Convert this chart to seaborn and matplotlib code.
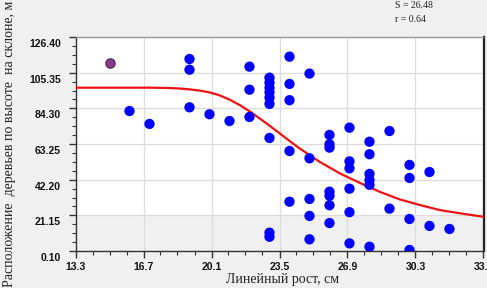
import matplotlib
matplotlib.use("Agg")
import matplotlib.pyplot as plt
import matplotlib.transforms as mtransforms
from matplotlib.ticker import AutoMinorLocator, FixedLocator
import seaborn as sns
import pandas as pd

# ---- data ----
growth = [16.0, 17.0, 19.0, 19.0, 19.0, 20.0, 21.0, 22.0, 22.0, 22.0,
          23.0, 23.0, 23.0, 23.0, 23.0, 23.0, 23.0, 23.0, 23.0,
          24.0, 24.0, 24.0, 24.0, 24.0,
          25.0, 25.0, 25.0, 25.0, 25.0,
          26.0, 26.0, 26.0, 26.0, 26.0, 26.0, 26.0,
          27.0, 27.0, 27.0, 27.0, 27.0, 27.0,
          28.0, 28.0, 28.0, 28.0, 28.0, 28.0,
          29.0, 29.0,
          30.0, 30.0, 30.0, 30.0,
          31.0, 31.0,
          32.0]
height = [82.7, 75.1, 113.4, 107.1, 84.9, 80.8, 76.8, 108.9, 95.3, 79.2,
          102.4, 99.5, 96.5, 93.8, 90.6, 86.9, 66.8, 10.9, 8.5,
          114.8, 98.7, 89.1, 59.1, 29.2,
          104.8, 54.8, 30.8, 20.8, 7.0,
          68.6, 63.1, 61.1, 35.1, 32.7, 27.1, 16.6,
          72.9, 53.0, 48.9, 36.9, 23.0, 4.6,
          64.6, 57.2, 45.6, 42.0, 39.2, 2.6,
          70.9, 25.1,
          50.9, 43.2, 19.0, 0.7,
          46.7, 14.9,
          13.1]
highlight_x = [15.0]
highlight_y = [111.1]

curve_x = [13.3, 17.0, 18.0, 18.5, 19.0, 19.5, 20.0, 20.5, 21.0, 21.5,
           22.0, 22.5, 23.0, 23.5, 24.0, 24.5, 25.5, 26.5, 27.5, 28.5,
           29.5, 30.5, 31.5, 32.5, 33.7]
curve_y = [96.5, 96.5, 96.3, 96.0, 95.5, 94.8, 93.7, 92.0, 89.5, 86.3,
           82.6, 78.4, 74.1, 69.6, 65.1, 60.7, 52.8, 46.0, 40.4, 35.1,
           30.6, 27.3, 24.3, 22.4, 20.3]

x_ticks = [13.3, 16.7, 20.1, 23.5, 26.9, 30.3, 33.7]
x_tick_labels = ["13.3", "16.7", "20.1", "23.5", "26.9", "30.3", "33.7"]
y_ticks = [0.10, 21.15, 42.20, 63.25, 84.30, 105.35, 126.40]
y_tick_labels = ["0.10", "21.15", "42.20", "63.25", "84.30", "105.35", "126.40"]

x_label = "Линейный рост, см"
y_label = "Расположение  деревьев по высоте  на склоне, м"
stat_s = "S = 26.48"
stat_r = "r = 0.64"

# ---- drawing ----
sns.set_style("white")
plt.rcParams["font.family"] = ["Liberation Sans", "DejaVu Sans"]

W, H = 487, 288
fig = plt.figure(figsize=(W / 100, H / 100), dpi=100, facecolor="#f0f0f0")
ax = fig.add_axes([75.5 / W, 1 - 251 / H, (483.5 - 75.5) / W, (251 - 37) / H])
ax.set_facecolor("white")

ax.set_xlim(x_ticks[0], x_ticks[-1])
ax.set_ylim(y_ticks[0], y_ticks[-1])

# grey band at the bottom
ax.axhspan(y_ticks[0], y_ticks[1], color="#f0f0f0", zorder=0, lw=0)

pts = pd.DataFrame({"x": growth, "y": height})
hl = pd.DataFrame({"x": highlight_x, "y": highlight_y})
fit = pd.DataFrame({"x": curve_x, "y": curve_y})

sns.lineplot(data=fit, x="x", y="y", ax=ax, color="#ee1111", lw=1.6,
             sort=False, estimator=None, zorder=3)
sns.scatterplot(data=pts, x="x", y="y", ax=ax, color="#0000ff", s=55,
                edgecolor="none", zorder=4)
sns.scatterplot(data=hl, x="x", y="y", ax=ax, color="#8a3c8c", s=45,
                edgecolor="#4a1650", linewidth=0.8, zorder=4)

ax.xaxis.set_major_locator(FixedLocator(x_ticks))
ax.yaxis.set_major_locator(FixedLocator(y_ticks))
ax.set_xticklabels(x_tick_labels)
ax.set_yticklabels(y_tick_labels)
ax.xaxis.set_minor_locator(AutoMinorLocator(4))
ax.yaxis.set_minor_locator(AutoMinorLocator(4))

ax.grid(True, which="major", color="#dcdcdc", lw=0.9, zorder=1)
ax.set_axisbelow(True)

ax.tick_params(axis="both", which="major", direction="out", length=5,
               width=1, color="#333333", labelsize=7.5)
ax.tick_params(axis="both", which="minor", direction="out", length=3,
               width=0.8, color="#333333")
ax.tick_params(axis="x", which="major", pad=3)
ax.tick_params(axis="y", which="major", pad=5.5)
ax.tick_params(left=True, bottom=True, which="both")
for lab in ax.get_xticklabels() + ax.get_yticklabels():
    lab.set_fontweight("bold")
    lab.set_color("#111111")

offset = mtransforms.ScaledTranslation(0, -6 / 100, fig.dpi_scale_trans)
for lab in ax.get_yticklabels():
    lab.set_transform(lab.get_transform() + offset)

for side in ["left", "bottom"]:
    ax.spines[side].set_color("#333333")
    ax.spines[side].set_linewidth(1.0)
ax.spines["top"].set_color("#9a9a9a")
ax.spines["top"].set_linewidth(1.0)
ax.spines["right"].set_color("#222222")
ax.spines["right"].set_linewidth(1.6)
for s in ax.spines.values():
    s.set_visible(True)

ax.set_xlabel("")
ax.set_ylabel("")

serif = ["Liberation Serif", "DejaVu Serif"]
fig.text(283 / W, 1 - 279 / H, x_label, ha="center", va="center",
         fontsize=10, family=serif, color="#222222")
fig.text(10 / W, 1 - 287 / H, y_label, ha="center", va="bottom",
         rotation=90, fontsize=10, family=serif, color="#222222")
fig.text(395 / W, 1 - 6 / H, stat_s, ha="left", va="center",
         fontsize=7, family=serif, color="#222222")
fig.text(395 / W, 1 - 20 / H, stat_r, ha="left", va="center",
         fontsize=7, family=serif, color="#222222")

fig.savefig("out.png", dpi=100, facecolor=fig.get_facecolor())
